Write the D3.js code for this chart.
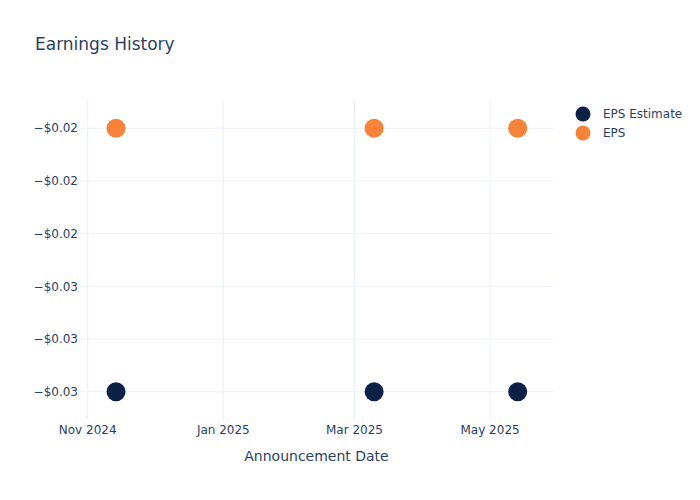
<!DOCTYPE html>
<html><head><meta charset="utf-8">
<script src="https://cdn.jsdelivr.net/npm/d3@7"></script>
<style>body{margin:0;background:#fff}svg{display:block}text{font-family:"DejaVu Sans",Verdana,sans-serif;fill:#2a3f5f}</style>
</head><body><svg id="c" width="700" height="500"></svg>
<script>
const dates = ["2024-11-13T18:00", "2025-03-09T20:00", "2025-05-13T10:00"];
const epsEstimate = [-0.03, -0.03, -0.03];
const eps = [-0.02, -0.02, -0.02];
const yTickValues = [-0.02, -0.022, -0.024, -0.026, -0.028, -0.03];
const yTickLabels = ["−$0.02", "−$0.02", "−$0.02", "−$0.03", "−$0.03", "−$0.03"];
const xTickValues = ["2024-11-01", "2025-01-01", "2025-03-01", "2025-05-01"];
const xTickLabels = ["Nov 2024", "Jan 2025", "Mar 2025", "May 2025"];
const seriesNames = ["EPS Estimate", "EPS"];
const colors = ["#0c2146", "#f7833a"];

const svg = d3.select("#c");
const L = 80, R = 553, T = 100, B = 420;
const parse = s => new Date(s);
const x = d3.scaleTime()
  .domain([parse("2024-10-28T13:00"), parse("2025-05-29T07:00")])
  .range([L, R]);
const y = d3.scaleLinear().domain([-0.031074, -0.018926]).range([B, T]);

// grid
const g = svg.append("g");
g.selectAll("line.h").data(yTickValues).join("line")
  .attr("x1", L).attr("x2", R)
  .attr("y1", d => y(d)).attr("y2", d => y(d))
  .attr("stroke", "#ebf0f8").attr("stroke-width", 1);
g.selectAll("line.v").data(xTickValues).join("line")
  .attr("x1", d => x(parse(d + "T00:00"))).attr("x2", d => x(parse(d + "T00:00")))
  .attr("y1", T).attr("y2", B)
  .attr("stroke", "#ebf0f8").attr("stroke-width", 1);

// y axis labels
svg.append("g").selectAll("text").data(yTickValues).join("text")
  .attr("x", 78).attr("y", d => y(d)).attr("dy", "0.35em")
  .attr("text-anchor", "end").attr("font-size", 12)
  .text((d, i) => yTickLabels[i]);

// x axis labels
svg.append("g").selectAll("text").data(xTickValues).join("text")
  .attr("x", d => x(parse(d + "T00:00"))).attr("y", 434)
  .attr("text-anchor", "middle").attr("font-size", 12)
  .text((d, i) => xTickLabels[i]);

// axis title
svg.append("text").attr("x", (L + R) / 2).attr("y", 461)
  .attr("text-anchor", "middle").attr("font-size", 14).text("Announcement Date");

// title
svg.append("text").attr("x", 35).attr("y", 50).attr("font-size", 17).text("Earnings History");

// points
const series = [epsEstimate, eps];
series.forEach((vals, si) => {
  svg.append("g").selectAll("circle").data(vals).join("circle")
    .attr("cx", (d, i) => x(parse(dates[i])))
    .attr("cy", d => y(d))
    .attr("r", 9.5)
    .attr("fill", colors[si]);
});

// legend
const lg = svg.append("g");
seriesNames.forEach((name, i) => {
  lg.append("circle").attr("cx", 583).attr("cy", 114 + i * 19).attr("r", 7.5).attr("fill", colors[i]);
  lg.append("text").attr("x", 603).attr("y", 114 + i * 19).attr("dy", "0.35em")
    .attr("font-size", 12).text(name);
});
</script></body></html>
